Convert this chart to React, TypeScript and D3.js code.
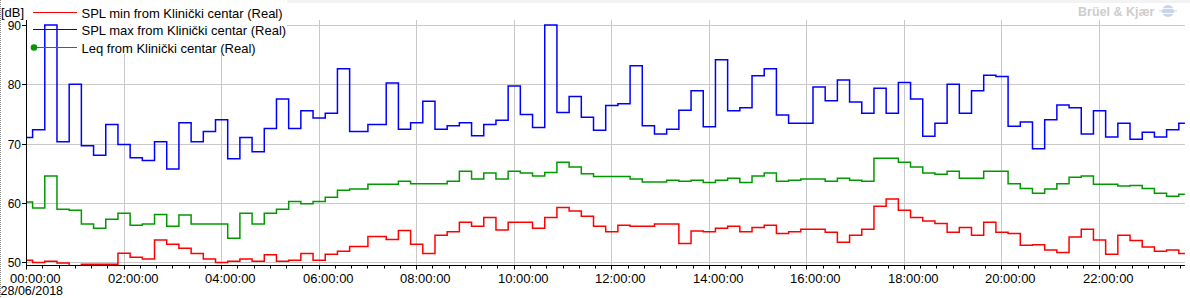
import React from 'react';
import * as d3 from 'd3';

const W = 1190;
const H = 298;

// 15-minute samples; the 07:00 sample is absent in the recording
const sampleStepMin = 15;
const lastSampleMin = 1425;
const missingSamples = [420];
const sampleMinutes = d3
  .range(0, lastSampleMin + 1, sampleStepMin)
  .filter((m) => !missingSamples.includes(m));

const splMin = [
  50.4, 50.0, 50.2, 49.9, 49.3, 49.7, 49.7, 49.7, 51.55, 50.9, 50.6, 53.8, 53.1, 52.4, 51.5, 50.6, 50.0, 50.2, 50.6, 50.2,
  51.3, 50.2, 50.4, 51.5, 50.4, 51.4, 51.9, 52.7,
  54.4, 53.9, 55.4, 53.1, 51.5, 54.6, 55.2, 56.8, 56.1, 57.6, 55.5, 56.8, 56.8, 55.8, 57.6, 59.3, 58.7, 57.8, 56.1, 55.2,
  56.3, 56.1, 56.1, 56.5, 56.5, 53.2, 55.3, 55.2, 55.8, 56.1, 55.2, 55.9, 56.3, 54.9, 55.2,
  55.6, 55.6, 55.1, 53.4, 54.6, 55.6, 59.5, 60.7, 58.8, 57.6, 57.0, 56.6, 55.1, 55.9, 54.6, 56.8, 55.1, 54.9, 52.9, 53.0,
  52.1, 51.7, 54.3, 55.6, 53.8, 51.4, 54.6, 53.7, 52.6, 51.9, 52.1, 51.5,
];

const splMax = [
  71.1, 72.4, 90.1, 70.4, 80.1, 69.7, 68.1, 73.3, 69.9, 67.7, 67.2, 70.4, 65.8, 73.6, 70.4, 72.1, 74.1, 67.5, 71.1, 68.7,
  72.6, 77.6, 72.6, 75.6, 74.4, 75.2, 82.7, 72.1,
  73.3, 80.3, 72.5, 73.6, 77.2, 72.5, 73.1, 73.6, 71.4, 73.3, 74.0, 79.8, 75.0, 72.8, 90.1, 75.3, 78.0, 74.5, 72.3, 76.5,
  76.8, 83.2, 73.1, 71.7, 72.5, 75.7, 79.0, 72.9, 84.2, 75.6, 76.1, 81.5, 82.7, 74.9, 73.5,
  73.5, 79.6, 77.3, 80.8, 77.1, 75.2, 79.4, 75.2, 80.4, 77.6, 71.3, 73.5, 80.1, 75.2, 79.0, 81.6, 81.4, 73.0, 73.7, 69.2,
  74.1, 76.6, 76.1, 71.7, 75.6, 71.2, 73.5, 70.8, 72.0, 71.2, 72.4, 73.5,
];

const leq = [
  60.2, 59.2, 64.6, 59.0, 58.8, 56.5, 55.8, 57.3, 58.3, 56.3, 56.5, 58.1, 56.1, 58.0, 56.5, 56.5, 56.5, 54.1, 58.3, 56.5,
  58.3, 59.0, 60.3, 59.9, 60.3, 61.0, 62.2, 62.4,
  63.2, 63.2, 63.7, 63.3, 63.3, 63.3, 63.7, 65.4, 64.1, 65.1, 64.1, 65.4, 65.1, 64.6, 65.2, 66.9, 66.1, 65.0, 64.5, 64.5,
  64.5, 64.1, 63.6, 63.6, 63.9, 63.7, 63.9, 63.5, 63.9, 64.2, 63.5, 64.6, 65.1, 63.7, 63.9,
  64.1, 64.1, 63.7, 64.2, 63.9, 63.7, 67.6, 67.6, 66.9, 66.1, 65.1, 64.9, 65.4, 64.2, 64.2, 65.4, 65.4, 63.3, 62.5, 61.7,
  62.4, 63.3, 64.4, 64.6, 63.2, 63.2, 62.9, 63.0, 62.5, 61.7, 61.2, 61.5,
];

const yTicks = [50, 60, 70, 80, 90];
const xMajorMinutes = d3.range(0, 1321, 120);
const xMinorMinutes = d3.range(0, 1425, 20);
const seriesLabels = [
  'SPL min from Klinički centar (Real)',
  'SPL max from Klinički centar (Real)',
  'Leq from Klinički centar (Real)',
];
const seriesColors = ['#ff0000', '#0000ff', '#009900'];
const unitLabel = '[dB]';
const dateLabel = '28/06/2018';
const brandLabel = 'Brüel & Kjær';

const FONT = '"Liberation Sans", Arial, sans-serif';

const fmtTime = (m: number) => {
  const h = Math.floor(m / 60);
  return `${String(h).padStart(2, '0')}:00:00`;
};

export default function App() {
  const plotLeft = 26.5;
  const plotRight = 1184.9;
  const plotTop = 20;
  const plotBottom = 265.5;

  const x = d3.scaleLinear().domain([0, lastSampleMin]).range([plotLeft, plotRight]);
  const y = d3.scaleLinear().domain([50, 90]).range([262.5, 25.5]);
  const crisp = (v: number) => Math.round(v - 0.5) + 0.5;

  const line = d3
    .line<number>()
    .x((_, i) => x(sampleMinutes[i]))
    .y((d) => y(d))
    .curve(d3.curveStep);

  const series = [splMin, splMax, leq];

  return (
    <svg
      width={W}
      height={H}
      style={{ position: 'absolute', left: 0, top: 0, background: '#fff' }}
      fontFamily={FONT}
    >
      <defs>
        <clipPath id="plot">
          <rect x={plotLeft} y={plotTop} width={plotRight - plotLeft + 1} height={plotBottom - plotTop} />
        </clipPath>
      </defs>
      <rect x={0} y={0} width={W} height={H} fill="#fff" />
      <rect x={287} y={0} width={W - 287} height={3} fill="#f3f3f3" />
      <line x1={0.5} x2={0.5} y1={0} y2={H} stroke="#8a8a8a" strokeDasharray="1,1" />

      {/* grid */}
      {yTicks.map((t) => (
        <line key={'gy' + t} x1={plotLeft} x2={plotRight} y1={crisp(y(t))} y2={crisp(y(t))} stroke="#c8c8c8" />
      ))}
      {xMajorMinutes.slice(1).map((m) => (
        <line key={'gx' + m} x1={crisp(x(m))} x2={crisp(x(m))} y1={plotTop} y2={plotBottom} stroke="#c8c8c8" />
      ))}

      {/* legend background */}
      <rect x={27} y={0} width={260} height={54} fill="#fff" />

      {/* series */}
      <g clipPath="url(#plot)">
        {series.map((s, i) => (
          <path key={'s' + i} d={line(s) || ''} fill="none" stroke={seriesColors[i]} strokeWidth={1.5} />
        ))}
      </g>

      {/* legend */}
      {seriesLabels.map((lab, i) => {
        const ly = [12.5, 29.5, 47.5][i];
        return (
          <g key={'lg' + i}>
            <line x1={33} x2={77} y1={ly} y2={ly} stroke={seriesColors[i]} strokeWidth={1.2} />
            {i === 2 && <circle cx={34} cy={ly} r={3.3} fill={seriesColors[i]} />}
            <text x={81.5} y={ly + 5} fontSize={13} fill="#000">
              {lab}
            </text>
          </g>
        );
      })}

      {/* axes */}
      <line x1={plotLeft} x2={plotLeft} y1={plotTop} y2={plotBottom} stroke="#000" />
      <line x1={plotLeft - 0.5} x2={plotRight} y1={plotBottom} y2={plotBottom} stroke="#000" />
      {yTicks.map((t) => (
        <g key={'yt' + t}>
          <line x1={22} x2={plotLeft} y1={crisp(y(t))} y2={crisp(y(t))} stroke="#000" />
          <text x={21} y={crisp(y(t)) + 4} fontSize={12} textAnchor="end" fill="#000">
            {t}
          </text>
        </g>
      ))}
      <text x={1} y={17} fontSize={13} fill="#000">
        {unitLabel}
      </text>
      {xMinorMinutes.map((m) => (
        <line
          key={'xm' + m}
          x1={crisp(x(m))}
          x2={crisp(x(m))}
          y1={plotBottom}
          y2={plotBottom + (m % 120 === 0 ? 4 : 3)}
          stroke="#000"
        />
      ))}
      {xMajorMinutes.map((m) => (
        <text key={'xl' + m} x={crisp(x(m)) - 16.5} y={283} fontSize={13} fill="#000">
          {fmtTime(m)}
        </text>
      ))}
      <text x={0.5} y={295} fontSize={12.5} fill="#000">
        {dateLabel}
      </text>

      {/* brand */}
      <text x={1078} y={16} fontSize={12.5} fontWeight="bold" fill="#cdcdcd">
        {brandLabel}
      </text>
      <g>
        <circle cx={1168} cy={11} r={6} fill="#c9d6ea" />
        <line x1={1159} x2={1177} y1={11} y2={11} stroke="#c9d6ea" />
        <line x1={1162} x2={1174} y1={8.5} y2={8.5} stroke="#fff" strokeWidth={0.8} />
        <line x1={1162} x2={1174} y1={13.5} y2={13.5} stroke="#fff" strokeWidth={0.8} />
      </g>
    </svg>
  );
}
